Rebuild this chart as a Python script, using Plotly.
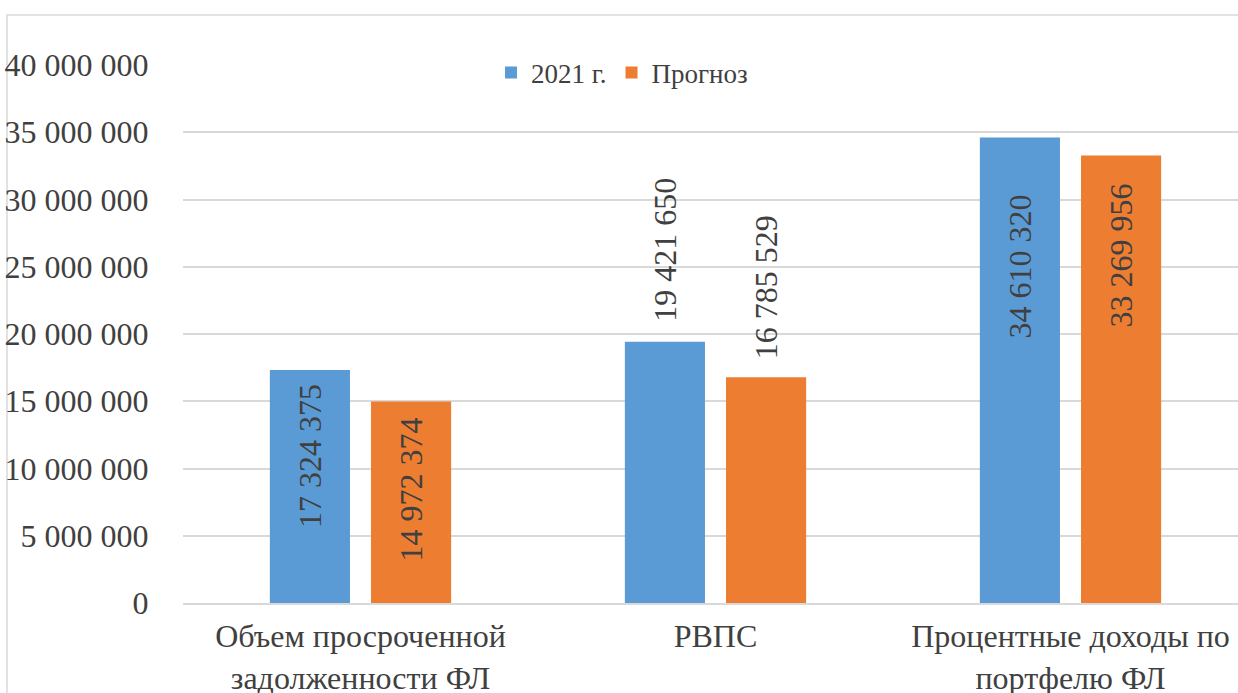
import plotly.graph_objects as go

categories = ["Объем просроченной<br>задолженности ФЛ", "РВПС", "Процентные доходы по<br>портфелю ФЛ"]
series_names = ["2021 г.", "Прогноз"]
values_2021 = [17324375, 19421650, 34610320]
values_forecast = [14972374, 16785529, 33269956]
y_ticks = [0, 5000000, 10000000, 15000000, 20000000, 25000000, 30000000, 35000000, 40000000]

colors = ["#5B9BD5", "#ED7D31"]
FONT = "Liberation Serif"
TXT = "#404040"


def fmt(v):
    return f"{v:,}".replace(",", " ")


fig = go.Figure()
for name, vals, col in zip(series_names, [values_2021, values_forecast], colors):
    fig.add_trace(go.Bar(x=categories, y=vals, name=name, marker=dict(color=col, line=dict(width=0)),
                         hoverinfo="skip"))

# data label placement (style): per bar yanchor and pixel shift
label_style = {
    0: [("top", -12), ("bottom", 18), ("top", -55)],
    1: [("top", -14), ("bottom", 16), ("top", -26)],
}
xshifts = [-50.5, 50.5]
for s, vals in enumerate([values_2021, values_forecast]):
    for i, v in enumerate(vals):
        anc, sh = label_style[s][i]
        fig.add_annotation(x=categories[i], y=v, xref="x", yref="y", text=fmt(v), textangle=-90,
                           showarrow=False, xshift=xshifts[s], yanchor=anc, yshift=sh,
                           font=dict(family=FONT, size=32, color=TXT))

L, T, B = 183, 65, 90
W, H = 1238, 693
pw, ph = W - L, H - T - B

fig.add_shape(type="rect", xref="paper", yref="paper",
              x0=(7 - L) / pw, x1=1.05, y0=-0.3, y1=1 + (T - 15) / ph,
              line=dict(color="#d9d9d9", width=1.5), fillcolor="rgba(0,0,0,0)", layer="below")

fig.update_layout(
    width=W, height=H,
    margin=dict(l=L, r=0, t=T, b=B, pad=0, autoexpand=False),
    paper_bgcolor="white", plot_bgcolor="white",
    barmode="group", bargap=0.43, bargroupgap=0.208,
    font=dict(family=FONT, size=32, color=TXT),
    separators=", ",
    showlegend=True,
    legend=dict(orientation="h", x=(622 - L) / pw, xanchor="center", y=1 - (73 - T) / ph, yanchor="middle",
                font=dict(family=FONT, size=27, color=TXT), bgcolor="rgba(0,0,0,0)",
                itemwidth=30, traceorder="normal"),
    xaxis=dict(range=[-0.5, (W - 360.5) / 355], showgrid=False, showline=True, automargin=False,
               linecolor="#d9d9d9", linewidth=1.5, ticks="outside", ticklen=4,
               tickcolor="rgba(0,0,0,0)", tickfont=dict(family=FONT, size=32, color=TXT), fixedrange=True),
    yaxis=dict(range=[0, 40000000], tickvals=y_ticks, ticktext=[fmt(v) for v in y_ticks], automargin=False,
               showgrid=True, gridcolor="#d9d9d9", gridwidth=1.5, zeroline=False, showline=False,
               ticks="outside", ticklen=27, tickcolor="rgba(0,0,0,0)",
               tickfont=dict(family=FONT, size=32, color=TXT), fixedrange=True),
)

fig.write_html("out.html")
